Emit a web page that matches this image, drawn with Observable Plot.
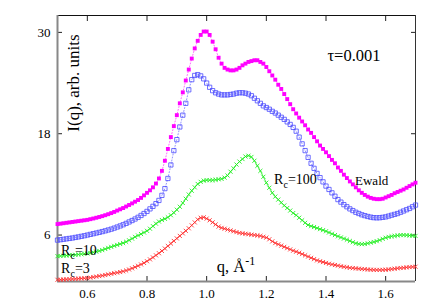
<!DOCTYPE html>
<html>
<head>
<meta charset="utf-8">
<script src="https://cdn.jsdelivr.net/npm/d3@7"></script>
<script src="https://cdn.jsdelivr.net/npm/@observablehq/plot@0.6"></script>
<style>
  html, body { margin: 0; padding: 0; background: #fff; }
  #chart { width: 436px; height: 305px; }
  #chart svg text { font-family: "Liberation Serif", "Times New Roman", serif; }
</style>
</head>
<body>
<div id="chart"></div>
<script>
// ---- data ----
const q = [0.50,0.51,0.52,0.53,0.54,0.55,0.56,0.57,0.58,0.59,
  0.60,0.61,0.62,0.63,0.64,0.65,0.66,0.67,0.68,0.69,
  0.70,0.71,0.72,0.73,0.74,0.75,0.76,0.77,0.78,0.79,
  0.80,0.81,0.82,0.83,0.84,0.85,0.86,0.87,0.88,0.89,
  0.90,0.91,0.92,0.93,0.94,0.95,0.96,0.97,0.98,0.99,
  1.00,1.01,1.02,1.03,1.04,1.05,1.06,1.07,1.08,1.09,
  1.10,1.11,1.12,1.13,1.14,1.15,1.16,1.17,1.18,1.19,
  1.20,1.21,1.22,1.23,1.24,1.25,1.26,1.27,1.28,1.29,
  1.30,1.31,1.32,1.33,1.34,1.35,1.36,1.37,1.38,1.39,
  1.40,1.41,1.42,1.43,1.44,1.45,1.46,1.47,1.48,1.49,
  1.50,1.51,1.52,1.53,1.54,1.55,1.56,1.57,1.58,1.59,
  1.60,1.61,1.62,1.63,1.64,1.65,1.66,1.67,1.68,1.69,
  1.70];

const ewald = [7.3,7.35,7.4,7.45,7.5,7.55,7.6,7.65,7.7,7.75,
  7.8,7.88,7.96,8.05,8.14,8.24,8.35,8.47,8.6,8.74,
  8.9,9.05,9.2,9.38,9.56,9.75,9.95,10.15,10.4,10.7,
  11.0,11.3,11.65,12.1,12.7,13.6,14.8,16.2,17.6,18.9,
  20.2,21.6,22.9,24.3,25.6,26.9,28.1,29.0,29.7,30.1,
  30.1,29.7,28.9,28.0,27.0,26.3,25.8,25.6,25.5,25.5,
  25.6,25.8,26.1,26.3,26.5,26.6,26.7,26.7,26.5,26.3,
  25.9,25.4,24.9,24.4,23.8,23.3,22.7,22.1,21.5,20.9,
  20.4,19.9,19.45,19.0,18.5,18.1,17.6,17.1,16.6,16.2,
  15.8,15.35,14.9,14.5,14.0,13.6,13.15,12.75,12.35,12.0,
  11.65,11.3,11.0,10.75,10.55,10.4,10.3,10.25,10.25,10.3,
  10.45,10.6,10.75,10.95,11.1,11.25,11.4,11.6,11.8,12.0,
  12.2];

const rc100 = [5.4,5.45,5.5,5.55,5.6,5.65,5.72,5.78,5.85,5.92,
  6.0,6.08,6.16,6.24,6.32,6.41,6.5,6.6,6.7,6.82,
  6.95,7.08,7.22,7.38,7.55,7.72,7.9,8.1,8.32,8.55,
  8.8,9.1,9.4,9.72,10.1,10.7,11.5,12.7,14.3,16.0,
  17.3,18.8,20.2,21.6,23.2,24.4,24.9,25.0,24.85,24.5,
  24.0,23.5,23.1,22.85,22.7,22.6,22.6,22.6,22.65,22.7,
  22.8,22.85,22.85,22.8,22.7,22.5,22.2,21.9,21.6,21.3,
  21.1,20.9,20.65,20.45,20.2,19.95,19.7,19.4,19.1,18.75,
  18.3,17.6,16.8,16.0,15.2,14.5,13.9,13.3,12.8,12.3,
  11.8,11.4,11.0,10.6,10.2,9.9,9.6,9.35,9.1,8.9,
  8.7,8.55,8.4,8.3,8.2,8.12,8.06,8.04,8.05,8.1,
  8.15,8.25,8.35,8.45,8.55,8.7,8.85,9.0,9.15,9.35,
  9.55];

const rc10 = [3.5,3.52,3.55,3.58,3.6,3.63,3.66,3.7,3.74,3.78,
  3.82,3.88,3.95,4.03,4.12,4.22,4.35,4.48,4.6,4.72,
  4.83,4.94,5.05,5.2,5.38,5.58,5.78,5.95,6.12,6.3,
  6.5,6.75,7.05,7.35,7.6,7.78,7.92,8.1,8.35,8.65,
  9.0,9.35,9.8,10.3,10.8,11.25,11.65,12.05,12.3,12.45,
  12.5,12.5,12.5,12.55,12.6,12.65,12.8,13.05,13.5,13.9,
  14.35,14.7,15.0,15.3,15.4,15.25,14.8,14.2,13.6,12.9,
  12.2,11.6,11.0,10.55,10.2,9.85,9.5,9.2,8.9,8.6,
  8.35,8.05,7.75,7.45,7.2,7.05,6.95,6.82,6.7,6.58,
  6.45,6.3,6.15,6.0,5.85,5.72,5.58,5.45,5.3,5.15,
  5.02,4.95,4.92,4.95,5.02,5.1,5.18,5.28,5.4,5.55,
  5.68,5.78,5.85,5.9,5.95,6.0,6.0,5.98,5.95,5.92,
  5.9];

const rc3 = [0.7,0.72,0.74,0.76,0.78,0.8,0.82,0.84,0.86,0.88,
  0.9,0.96,1.02,1.08,1.14,1.2,1.27,1.34,1.41,1.48,
  1.55,1.62,1.7,1.8,1.92,2.06,2.2,2.36,2.52,2.7,
  2.9,3.12,3.35,3.6,3.85,4.12,4.4,4.7,5.0,5.3,
  5.6,5.9,6.2,6.5,6.8,7.15,7.5,7.85,8.05,8.1,
  7.95,7.75,7.5,7.25,7.0,6.85,6.75,6.65,6.55,6.45,
  6.35,6.25,6.2,6.15,6.1,6.05,6.0,5.95,5.9,5.8,
  5.7,5.5,5.25,5.05,4.9,4.75,4.6,4.45,4.3,4.15,
  4.03,3.9,3.75,3.6,3.45,3.3,3.15,3.0,2.9,2.8,
  2.7,2.6,2.52,2.45,2.38,2.3,2.24,2.18,2.12,2.08,
  2.05,2.02,1.98,1.95,1.92,1.9,1.88,1.87,1.87,1.88,
  1.9,1.93,1.97,2.02,2.06,2.1,2.13,2.17,2.2,2.23,
  2.25];

const xTicks = [0.6, 0.8, 1.0, 1.2, 1.4, 1.6];
const yTicks = [6, 18, 30];
const xDomain = [0.5, 1.7];
const yDomain = [0.5, 32];

const seriesLabels = ["Ewald", "R_c=100", "R_c=10", "R_c=3"];
const tauLabel = "τ=0.001";
const xTitle = "q, Å^-1";
const yTitle = "I(q), arb. units";

// ---- build tables ----
const rows = (arr) => q.map((x, i) => ({q: x, v: arr[i]}));
const dEwald = rows(ewald), d100 = rows(rc100), d10 = rows(rc10), dR3 = rows(rc3);

// annotation placement (data coordinates)
const annMiddle = [{q: 1.553, y: 12.4, t: seriesLabels[0]}];
const annStart = [
  {q: 1.226, y: 12.6, t: seriesLabels[1]},
  {q: 0.512, y: 4.15, t: seriesLabels[2]},
  {q: 0.512, y: 2.0, t: seriesLabels[3]}
];
const annBig = [
  {q: 1.405, y: 27.2, t: tauLabel},
  {q: 1.034, y: 2.2, t: xTitle}
];

const MAG = "#ff00ff", BLU = "#4a4aff", GRN = "#22ee22", RED = "#ff3030";
const FONT = "Liberation Serif";

const plot = Plot.plot({
  width: 436,
  height: 305,
  marginLeft: 57,
  marginRight: 21,
  marginTop: 15,
  marginBottom: 24,
  x: {domain: xDomain, label: null},
  y: {domain: yDomain, label: null},
  style: {fontFamily: FONT, fontSize: "13px", background: "#fff", color: "#000"},
  marks: [
    // inward ticks
    Plot.axisX(xTicks, {anchor: "bottom", tickSize: -5, tickFormat: () => "", stroke: "#222", label: null}),
    Plot.axisX(xTicks, {anchor: "top", tickSize: -5, tickFormat: () => "", stroke: "#222", label: null}),
    Plot.axisY(yTicks, {anchor: "left", tickSize: -5, tickFormat: () => "", stroke: "#222", label: null}),
    Plot.axisY(yTicks, {anchor: "right", tickSize: -5, tickFormat: () => "", stroke: "#222", label: null}),
    // tick labels
    Plot.axisX(xTicks, {anchor: "bottom", tickSize: 0, tickPadding: 7, fontSize: 13, fontFamily: FONT, label: null}),
    Plot.axisY(yTicks, {anchor: "left", tickSize: 0, tickPadding: 7, fontSize: 13, fontFamily: FONT, label: null}),
    // frame
    Plot.ruleX([xDomain[1]], {stroke: "#333", strokeWidth: 1}),
    Plot.ruleY([yDomain[1]], {stroke: "#111", strokeWidth: 1}),
    Plot.ruleX([xDomain[0]], {stroke: "#888", strokeWidth: 2}),
    Plot.ruleY([yDomain[0]], {stroke: "#888", strokeWidth: 2}),
    // R_c = 3 (red crosses)
    Plot.line(dR3, {x: "q", y: "v", stroke: RED, strokeWidth: 0.8}),
    Plot.dot(dR3, {x: "q", y: "v", symbol: "times", r: 2.0, stroke: RED, strokeWidth: 0.9}),
    // R_c = 10 (green crosses)
    Plot.line(d10, {x: "q", y: "v", stroke: GRN, strokeWidth: 0.8}),
    Plot.dot(d10, {x: "q", y: "v", symbol: "times", r: 2.0, stroke: GRN, strokeWidth: 0.9}),
    // R_c = 100 (blue open squares)
    Plot.line(d100, {x: "q", y: "v", stroke: BLU, strokeWidth: 0.6, strokeDasharray: "1,2"}),
    Plot.dot(d100, {x: "q", y: "v", symbol: "square", r: 2.4, stroke: BLU, strokeWidth: 0.8, fill: "none"}),
    // Ewald (magenta filled squares)
    Plot.line(dEwald, {x: "q", y: "v", stroke: MAG, strokeWidth: 0.6, strokeDasharray: "1,2"}),
    Plot.dot(dEwald, {x: "q", y: "v", symbol: "square", r: 2.2, fill: MAG, stroke: "none"}),
    // annotations
    Plot.text(annMiddle, {x: "q", y: "y", text: "t", textAnchor: "middle", fontSize: 13, fontFamily: FONT, fill: "#000"}),
    Plot.text(annStart, {x: "q", y: "y", text: "t", textAnchor: "start", fontSize: 14, fontFamily: FONT, fill: "#000"}),
    Plot.text(annBig, {x: "q", y: "y", text: "t", textAnchor: "start", fontSize: 16.5, fontFamily: FONT, fill: "#000"}),
    Plot.text([{q: 0.554, y: 24.0, t: yTitle}], {x: "q", y: "y", text: "t", rotate: -90, fontSize: 17, fontFamily: FONT, fill: "#000"})
  ]
});

// subscripts / superscripts
d3.select(plot).selectAll("text").each(function () {
  const s = this.textContent;
  if (s.startsWith("R_c")) {
    const rest = s.slice(3);
    this.textContent = "";
    const sel = d3.select(this);
    sel.append("tspan").text("R");
    sel.append("tspan").attr("dy", 4).attr("font-size", 10).text("c");
    sel.append("tspan").attr("dy", -4).text(rest);
  } else if (s.includes("^-1")) {
    const base = s.replace("^-1", "");
    this.textContent = "";
    const sel = d3.select(this);
    sel.append("tspan").text(base);
    sel.append("tspan").attr("dy", -7).attr("font-size", 12).text("-1");
  }
});

document.getElementById("chart").appendChild(plot);
</script>
</body>
</html>
